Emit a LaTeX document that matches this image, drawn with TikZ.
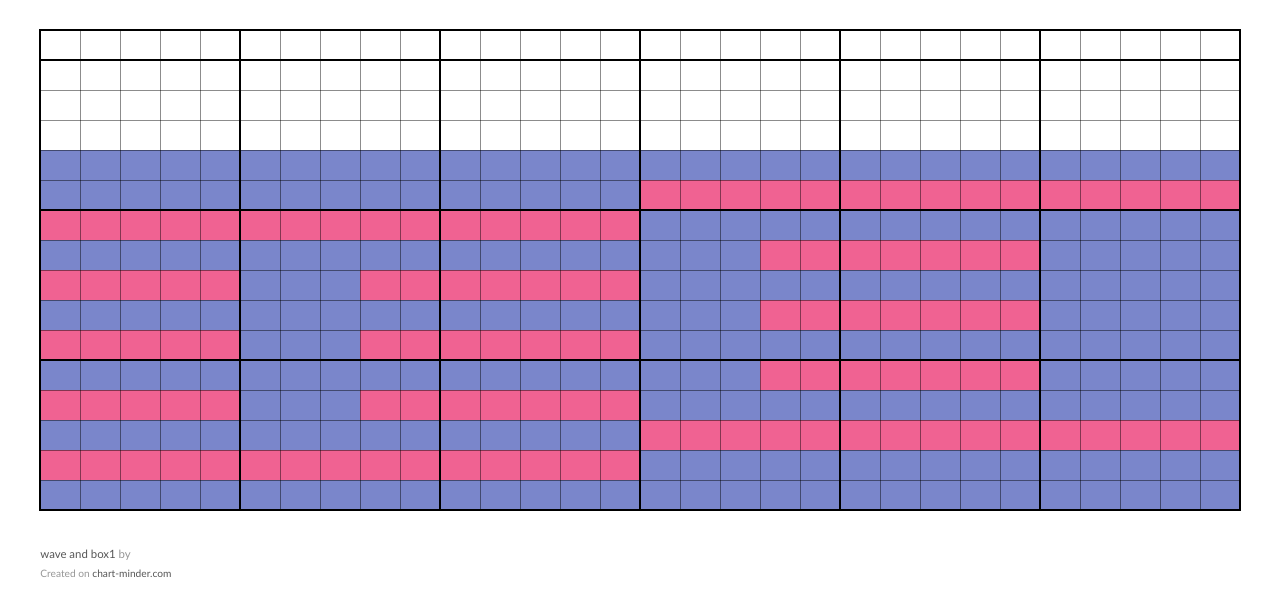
\documentclass[tikz,border=0pt]{standalone}
\usepackage{fontspec}
\setmainfont{Lato}
\usetikzlibrary{positioning}
\definecolor{my_blue}{RGB}{122, 134, 203}
\definecolor{my_pink}{RGB}{240, 98, 146}
\definecolor{my_dark}{RGB}{85, 85, 85}
\definecolor{my_light}{RGB}{150, 150, 150}
\tikzset {
  cell/.style = {draw=none},
  thin/.style = {draw=black, draw opacity=0.45, line width=0.55pt},
  thick/.style = {draw=black, line width=1.4pt, line cap=rect},
  title/.style = {anchor=base west, inner sep=0, font=\fontsize{6.5pt}{7pt}\selectfont, text=my_dark},
  credit/.style = {anchor=base west, inner sep=0, font=\fontsize{5.8pt}{7pt}\selectfont, text=my_dark}
}

\begin{document}
\begin{tikzpicture}[x=0.02cm, y=-0.02cm]

    \useasboundingbox (0,0) rectangle (1280,603);

    % blue background rows
    \fill[my_blue] (40,150) rectangle (1240,510);
    % pink runs: row/first col/last col
    \foreach \r/\a/\b in {5/15/29, 6/0/14, 7/18/24, 8/0/4, 8/8/14, 9/18/24, 10/0/4, 10/8/14,
                          11/18/24, 12/0/4, 12/8/14, 13/15/29, 14/0/14}
        \fill[my_pink] ({40+40*\a},{30+30*\r}) rectangle ({80+40*\b},{60+30*\r});

    % grid
    \foreach \c in {1,...,29}
        \draw[thin] ({40+40*\c},30) -- ({40+40*\c},510);
    \foreach \r in {1,...,15}
        \draw[thin] (40,{30+30*\r}) -- (1240,{30+30*\r});
    \foreach \c in {0,5,...,30}
        \draw[thick] ({40+40*\c},30) -- ({40+40*\c},510);
    \foreach \y in {30,60,210,360,510}
        \draw[thick] (40,\y) -- (1240,\y);

    \node[title] (name) at (40,558) {wave and box1 \textcolor{my_light}{by}};
    \node[credit] (site) at (40,577) {\textcolor{my_light}{Created on} chart-minder.com};

\end{tikzpicture}
\end{document}
